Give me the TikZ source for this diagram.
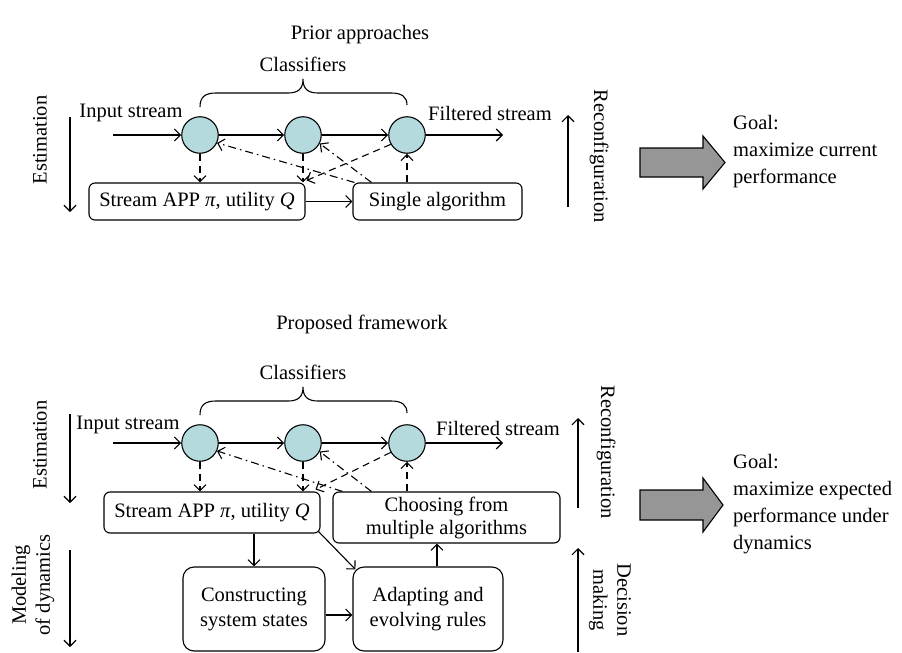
\documentclass[tikz,border=0pt]{standalone}
\usepackage{fontspec}
\setmainfont{Liberation Serif}
\usetikzlibrary{arrows.meta,calc}
\definecolor{clfc}{RGB}{180,218,222}
\definecolor{blkc}{RGB}{150,150,150}
\begin{document}
\begin{tikzpicture}[x=1pt,y=-1pt,
  every node/.style={font=\fontsize{20.5}{24}\selectfont, inner sep=0pt},
  conn/.style={line width=1.1pt, -{Straight Barb[length=6pt,width=12pt]}},
  dsh/.style={conn, dash pattern=on 7pt off 5pt},
  dd/.style={conn, dash pattern=on 8pt off 4pt on 1.6pt off 4pt},
  box/.style={draw, line width=1.1pt, rounded corners=6pt, align=center},
  bigbox/.style={box, rounded corners=11pt},
  clf/.style={circle, draw, line width=1.1pt, fill=clfc, minimum size=36.5pt},
  blk/.style={draw, line width=1.1pt, fill=blkc, line join=miter},
  brc/.style={line width=1.1pt},
  goal/.style={align=left, anchor=west, font=\fontsize{20.5}{27}\selectfont},
]
\useasboundingbox (0,0) rectangle (902,653);

% ---------------- top part ----------------
\node (t1) at (360,35) {Prior approaches};
\node (cl1) at (303,64) {Classifiers};
\draw[brc] (200,107) .. controls (200,97) and (205,93) .. (216,93) -- (288,93)
  .. controls (298,93) and (303,89) .. (303,79)
  .. controls (303,89) and (308,93) .. (318,93) -- (391,93)
  .. controls (402,93) and (407,97) .. (407,105);
\node[clf] (a1) at (200,135) {};
\node[clf] (a2) at (303,135) {};
\node[clf] (a3) at (407,135) {};
\node (in1) at (131,113) {Input stream};
\node (out1) at (490,113) {Filtered stream};
\node[box, minimum width=216pt, minimum height=37pt] (p1) at (197,201.5) {Stream APP \textit{π}, utility \textit{Q}};
\node[box, minimum width=169pt, minimum height=37pt] (s1) at (437.5,201.5) {Single algorithm};
\coordinate (ins1) at (113,135);
\coordinate (os1) at (503,135);
\draw[conn] (ins1) -- (a1);
\draw[conn] (a1) -- (a2);
\draw[conn] (a2) -- (a3);
\draw[conn] (a3) -- (os1);
\draw[conn] (p1) -- (s1);
\draw[dsh] (a1.south) -- (a1.south |- p1.north);
\draw[dsh] (a2.south) -- (a2.south |- p1.north);
\draw[dsh] (s1.north -| a3.south) -- (a3.south);
\draw[dsh] (a3.210) -- ($(p1.north east)+(1,-2)$);
\draw[dd] ($(s1.north west)+(2,0)$) -- (a1.335);
\draw[dd] ($(s1.north west)+(19,0)$) -- (a2.333);

\node[rotate=90] (e1) at (40,140) {Estimation};
\coordinate (ea1) at (70,117);
\coordinate (eb1) at (70,212);
\draw[conn] (ea1) -- (eb1);
\node[rotate=-90] (r1) at (599,156) {Reconfiguration};
\coordinate (ra1) at (568,207);
\coordinate (rb1) at (568,115);
\draw[conn] (ra1) -- (rb1);

\draw[blk] (640,148) -- (703,148) -- (703,136) -- (725,162.5) -- (703,189) -- (703,177) -- (640,177) -- cycle;
\node[goal] (g1) at (733,152) {Goal:\\maximize current\\performance};

% ---------------- bottom part ----------------
\node (t2) at (362,324) {Proposed framework};
\node (cl2) at (303,372) {Classifiers};
\draw[brc] (200,415) .. controls (200,405) and (205,401) .. (216,401) -- (288,401)
  .. controls (298,401) and (303,397) .. (303,387)
  .. controls (303,397) and (308,401) .. (318,401) -- (391,401)
  .. controls (402,401) and (407,405) .. (407,413);
\node[clf] (b1) at (200,443) {};
\node[clf] (b2) at (303,443) {};
\node[clf] (b3) at (407,443) {};
\node (in2) at (128,425) {Input stream};
\node (out2) at (498,428) {Filtered stream};
\node[box, minimum width=216pt, minimum height=41pt] (p2) at (212,512.5) {Stream APP \textit{π}, utility \textit{Q}};
\node[box, minimum width=227pt, minimum height=51pt, font=\fontsize{20.5}{23}\selectfont] (ch) at (446.5,517.5) {Choosing from\\multiple algorithms};
\node[bigbox, minimum width=142pt, minimum height=84pt, font=\fontsize{20.5}{25}\selectfont] (con) at (254,609) {Constructing\\system states};
\node[bigbox, minimum width=150pt, minimum height=84pt, font=\fontsize{20.5}{25}\selectfont] (ada) at (428,609) {Adapting and\\evolving rules};
\coordinate (ins2) at (113,443);
\coordinate (os2) at (503,443);
\draw[conn] (ins2) -- (b1);
\draw[conn] (b1) -- (b2);
\draw[conn] (b2) -- (b3);
\draw[conn] (b3) -- (os2);
\draw[dsh] (b1.south) -- (b1.south |- p2.north);
\draw[dsh] (b2.south) -- (b2.south |- p2.north);
\draw[dsh] (ch.north -| b3.south) -- (b3.south);
\draw[dsh] (b3.210) -- ($(p2.north east)+(-5,-2)$);
\draw[dd] ($(ch.north west)+(10,0)$) -- (b1.335);
\draw[dd] ($(ch.north west)+(39,0)$) -- (b2.333);
\draw[conn] (p2.south -| con.north) -- (con.north);
\draw[conn] ($(p2.south east)+(-2,-2)$) -- ($(ada.north west)+(3,3)$);
\draw[conn] ($(con.east)+(0,6)$) -- ($(ada.west)+(0,6)$);
\coordinate (adt) at ($(ada.north)+(9,0)$);
\draw[conn] (adt) -- (adt |- ch.south);

\node[rotate=90] (e2) at (40,445) {Estimation};
\coordinate (ea2) at (70,414);
\coordinate (eb2) at (70,503);
\draw[conn] (ea2) -- (eb2);
\node[rotate=90, align=center] (md) at (33,585) {Modeling\\of dynamics};
\coordinate (ma) at (70,550);
\coordinate (mb) at (70,647);
\draw[conn] (ma) -- (mb);

\node[rotate=-90] (r2) at (606,452) {Reconfiguration};
\coordinate (ra2) at (578,508);
\coordinate (rb2) at (578,418);
\draw[conn] (ra2) -- (rb2);
\node[rotate=-90, align=center] (dm) at (610,600) {Decision\\making};
\coordinate (da) at (578,652);
\coordinate (db) at (578,548);
\draw[conn] (da) -- (db);

\draw[blk] (640,490) -- (703,490) -- (703,478) -- (723,505) -- (703,532) -- (703,520) -- (640,520) -- cycle;
\node[goal] (g2) at (733,504) {Goal:\\maximize expected\\performance under\\dynamics};
\end{tikzpicture}
\end{document}
